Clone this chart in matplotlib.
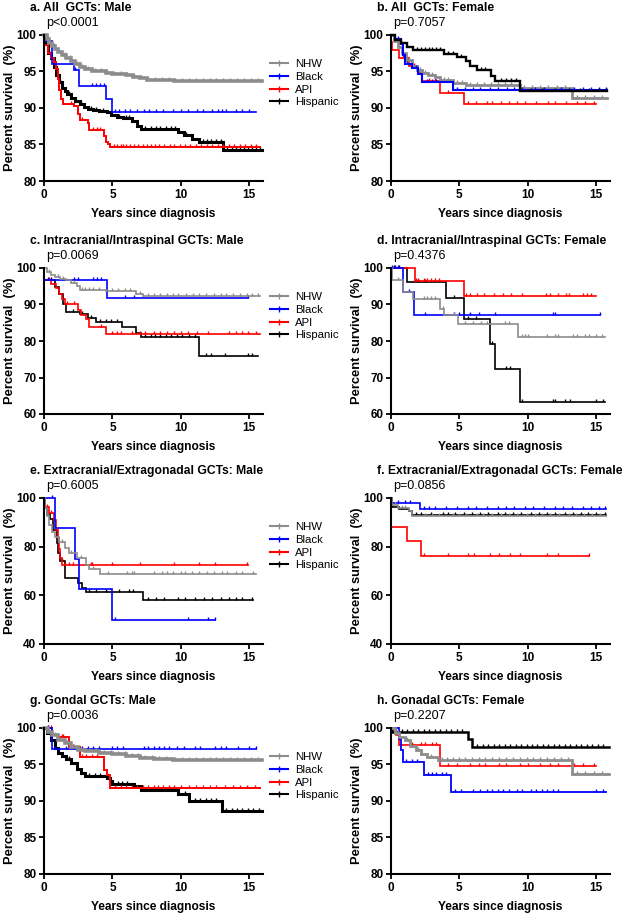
import numpy as np
import matplotlib
matplotlib.use("Agg")
import matplotlib.pyplot as plt
from matplotlib.lines import Line2D
from matplotlib.path import Path

plt.rcParams['font.family'] = ['Liberation Sans', 'DejaVu Sans']

groups = ["NHW", "Black", "API", "Hispanic"]
colors = {"NHW": "#8c8c8c", "Black": "#0000ff", "API": "#ff0000", "Hispanic": "#000000"}

titles = ["a. All  GCTs: Male", "b. All  GCTs: Female",
          "c. Intracranial/Intraspinal GCTs: Male", "d. Intracranial/Intraspinal GCTs: Female",
          "e. Extracranial/Extragonadal GCTs: Male", "f. Extracranial/Extragonadal GCTs: Female",
          "g. Gondal GCTs: Male", "h. Gonadal GCTs: Female"]
pvals = ["p<0.0001", "p=0.7057", "p=0.0069", "p=0.4376", "p=0.6005", "p=0.0856", "p=0.0036", "p=0.2207"]
ylims = [(80, 100), (80, 100), (60, 100), (60, 100), (40, 100), (40, 100), (80, 100), (80, 100)]
yticks = [[80, 85, 90, 95, 100], [80, 85, 90, 95, 100], [60, 70, 80, 90, 100], [60, 70, 80, 90, 100],
          [40, 60, 80, 100], [40, 60, 80, 100], [80, 85, 90, 95, 100], [80, 85, 90, 95, 100]]
xticks = [0, 5, 10, 15]

# ---------- Panel a ----------
a_NHW_t = [0, 0.2, 0.4, 0.6, 0.8, 1.0, 1.3, 1.6, 2.0, 2.3, 2.6, 3.0, 3.5, 4.0, 4.5, 5.0, 5.5, 6.0, 6.5, 7.0, 7.5, 8.0, 9.5]
a_NHW_s = [100, 99.4, 98.9, 98.5, 98.1, 97.7, 97.3, 96.9, 96.5, 96.0, 95.6, 95.3, 95.1, 95.0, 94.8, 94.7, 94.6, 94.5, 94.3, 94.1, 93.9, 93.8, 93.7]
a_NHW_end = 15.9
a_NHW_c = [0.3, 0.7, 1.1, 1.5, 1.9, 2.4, 2.8, 3.2, 3.7, 4.2, 4.6, 5.1, 5.6, 6.1, 6.6, 7.1, 7.6, 8.1, 8.6, 9.1, 9.6, 10.1,
           10.6, 11.1, 11.6, 12.1, 12.6, 13.1, 13.6, 14.1, 14.6, 15.1, 15.6]
a_Black_t = [0, 0.1, 0.55, 2.2, 2.55, 4.55, 4.95]
a_Black_s = [100, 99.2, 96.0, 95.2, 93.0, 91.3, 89.5]
a_Black_end = 15.5
a_Black_c = [2.3, 3.5, 3.8, 4.1, 4.4, 5.2, 5.5, 5.9, 6.3, 6.8, 7.3, 7.7, 8.2, 8.7, 9.4, 10.0, 10.5, 11.2, 11.6, 12.3,
             12.7, 13.0, 13.3, 14.0, 14.5, 15.0]
a_API_t = [0, 0.02, 0.3, 0.5, 0.7, 0.85, 1.0, 1.1, 1.25, 1.4, 2.2, 2.5, 2.65, 3.2, 3.3, 4.35, 4.5, 4.7, 4.85]
a_API_s = [100, 98.6, 97.5, 96.8, 96.3, 95.3, 94.0, 92.5, 91.2, 90.6, 90.3, 89.2, 88.3, 88.0, 87.0, 86.2, 85.4, 85.0, 84.6]
a_API_end = 15.8
a_API_c = [2.0, 2.8, 3.6, 3.9, 4.1, 5.1, 5.3, 5.6, 5.8, 6.0, 6.3, 6.6, 6.9, 7.2, 7.5, 7.8, 8.1, 8.4, 8.8, 9.2, 9.5, 9.9,
           10.3, 10.7, 11.1, 11.5, 11.9, 12.3, 12.7, 13.1, 13.5, 13.9, 14.3, 14.7, 15.1, 15.5]
a_Hisp_t = [0, 0.05, 0.3, 0.5, 0.7, 0.9, 1.1, 1.3, 1.5, 1.7, 2.0, 2.3, 2.6, 2.9, 3.2, 3.6, 4.0, 4.6, 4.9, 5.3, 5.8,
            6.4, 6.8, 7.1, 9.8, 10.2, 10.8, 11.3, 13.1]
a_Hisp_s = [100, 98.7, 97.6, 96.8, 95.6, 94.5, 93.6, 92.8, 92.3, 91.9, 91.4, 90.9, 90.5, 90.1, 89.9, 89.7, 89.6, 89.4,
            89.1, 88.8, 88.6, 88.2, 87.6, 87.1, 86.7, 86.3, 85.8, 85.3, 84.2]
a_Hisp_end = 15.9
a_Hisp_c = [0.4, 1.2, 1.8, 2.7, 3.4, 3.8, 4.3, 5.5, 6.0, 6.2, 7.4, 7.8, 8.2, 8.5, 8.9, 9.3, 9.6, 10.4, 11.6, 11.9, 12.2,
            12.6, 12.9, 13.4, 13.7, 14.0, 14.3, 14.6, 14.9, 15.2, 15.5, 15.8]

# ---------- Panel b ----------
b_NHW_t = [0, 0.2, 0.5, 0.8, 1.1, 1.5, 1.9, 2.3, 2.7, 3.2, 3.6, 4.5, 5.5, 9.4, 13.2]
b_NHW_s = [100, 99.2, 98.4, 97.5, 96.6, 95.8, 95.2, 94.8, 94.5, 94.2, 93.8, 93.4, 93.2, 92.7, 91.4]
b_NHW_end = 15.8
b_NHW_c = [0.4, 1.3, 2.1, 2.5, 3.0, 3.9, 4.2, 4.8, 5.2, 5.8, 6.3, 6.8, 7.3, 7.8, 8.3, 8.8, 9.7, 10.3, 10.9, 11.5,
           12.1, 12.7, 13.6, 14.2, 14.8, 15.4]
b_Black_t = [0, 0.3, 0.7, 0.9, 1.0, 1.5, 2.0, 2.3, 4.5]
b_Black_s = [100, 99.5, 98.8, 97.3, 96.0, 95.5, 94.6, 93.5, 92.4]
b_Black_end = 15.8
b_Black_c = [0.5, 1.2, 1.8, 2.6, 3.0, 3.3, 4.8, 5.4, 6.0, 6.5, 7.2, 7.8, 8.5, 9.0, 9.6, 10.5, 11.2, 12.4, 13.4, 14.0,
             14.6, 15.2, 15.7]
b_API_t = [0, 0.05, 0.6, 1.3, 2.0, 2.3, 3.6, 5.3]
b_API_s = [99.0, 98.0, 96.9, 95.8, 94.8, 93.7, 92.0, 90.6]
b_API_end = 15.0
b_API_c = [0.9, 1.7, 2.8, 3.2, 4.2, 5.6, 6.2, 7.0, 7.4, 8.0, 8.6, 9.2, 9.8, 10.6, 11.5, 12.0, 12.8, 13.6, 14.2, 14.8]
b_Hisp_t = [0, 0.3, 0.7, 1.2, 1.6, 3.9, 4.8, 5.5, 5.8, 6.3, 7.3, 7.6, 9.4]
b_Hisp_s = [100, 99.3, 98.9, 98.4, 97.9, 97.4, 97.0, 96.4, 95.8, 95.2, 94.4, 93.7, 92.3]
b_Hisp_end = 15.8
b_Hisp_c = [1.9, 2.2, 2.5, 2.8, 3.0, 3.3, 3.6, 4.2, 4.5, 5.1, 6.6, 6.9, 8.0, 8.4, 8.8, 9.1, 10.2, 11.0, 12.0, 13.0,
            13.8, 14.5, 15.2, 15.7]

# ---------- Panel c ----------
c_NHW_t = [0, 0.2, 0.5, 0.8, 1.2, 1.6, 2.0, 2.4, 2.6, 4.5, 6.7, 7.2]
c_NHW_s = [100, 99.0, 98.0, 97.4, 97.0, 96.6, 96.0, 95.0, 94.1, 93.6, 92.8, 92.2]
c_NHW_end = 15.8
c_NHW_c = [0.4, 1.0, 1.4, 2.2, 2.8, 3.0, 3.3, 3.6, 4.0, 5.0, 5.4, 5.9, 6.3, 7.0, 7.6, 8.0, 8.5, 9.0, 9.4, 9.8, 10.4,
           10.9, 11.3, 11.8, 12.4, 12.9, 13.3, 13.8, 14.3, 14.8, 15.2, 15.6]
c_Black_t = [0, 0.02, 4.6]
c_Black_s = [100, 96.8, 91.7]
c_Black_end = 14.9
c_Black_c = [0.3, 2.2, 2.5, 3.6, 3.9, 4.2, 5.9, 6.6, 14.9]
c_API_t = [0, 0.02, 0.5, 0.9, 1.1, 1.3, 1.5, 2.5, 2.7, 3.1, 3.3, 4.5]
c_API_s = [100, 96.8, 95.5, 94.5, 93.0, 91.5, 90.0, 88.6, 87.0, 86.0, 83.7, 82.0]
c_API_end = 15.8
c_API_c = [0.4, 1.7, 2.2, 4.2, 5.0, 5.3, 5.6, 6.4, 7.0, 7.4, 8.0, 8.5, 9.0, 9.5, 10.0, 10.5, 11.2, 12.0, 13.5, 14.0,
           14.5, 14.9, 15.5]
c_Hisp_t = [0, 0.02, 0.8, 1.1, 1.4, 1.6, 2.6, 3.2, 3.8, 5.7, 6.7, 7.1, 11.3]
c_Hisp_s = [100, 96.8, 94.8, 92.8, 90.0, 88.0, 87.4, 86.3, 85.3, 83.7, 82.3, 81.0, 76.0]
c_Hisp_end = 15.6
c_Hisp_c = [0.5, 2.1, 2.8, 3.4, 4.1, 4.5, 4.9, 5.3, 7.4, 7.8, 8.1, 8.5, 8.9, 9.3, 9.7, 10.1, 10.6, 11.0, 11.8, 12.2,
            13.2, 14.9, 15.2]

# ---------- Panel d ----------
d_NHW_t = [0, 0.05, 0.9, 1.6, 3.6, 3.9, 4.9, 9.3]
d_NHW_s = [100, 96.8, 93.3, 91.5, 88.8, 87.0, 84.6, 81.0]
d_NHW_end = 15.6
d_NHW_c = [0.5, 2.4, 2.6, 2.9, 3.2, 3.8, 4.6, 5.4, 6.0, 6.6, 7.0, 8.3, 8.6, 9.6, 9.8, 10.0, 11.4, 12.0, 12.2, 13.3,
           13.6, 14.2, 14.5, 15.0, 15.4]
d_Black_t = [0, 0.9, 1.7]
d_Black_s = [100, 93.5, 87.0]
d_Black_end = 15.3
d_Black_c = [0.1, 0.3, 0.5, 1.3, 2.5, 4.6, 5.0, 5.8, 6.4, 7.6, 11.8, 12.0, 15.3]
d_API_t = [0, 1.75, 5.35]
d_API_s = [100, 96.5, 92.4]
d_API_end = 15.0
d_API_c = [1.8, 2.0, 2.4, 2.6, 2.9, 3.2, 3.5, 5.5, 5.8, 6.3, 6.8, 7.5, 8.2, 8.8, 9.6, 11.3, 11.6, 12.2, 12.8, 13.0,
           14.0, 14.3, 14.6]
d_Hisp_t = [0, 1.2, 4.0, 5.3, 7.2, 7.6, 9.4]
d_Hisp_s = [100, 96.3, 91.7, 86.0, 79.3, 72.2, 63.2]
d_Hisp_end = 15.6
d_Hisp_c = [0.2, 0.6, 2.0, 2.5, 4.6, 5.6, 6.2, 7.4, 8.4, 8.7, 9.6, 11.8, 12.0, 12.7, 13.1, 15.0, 15.5]

# ---------- Panel e ----------
e_NHW_t = [0, 0.05, 0.2, 0.4, 0.6, 0.8, 1.1, 1.5, 1.8, 2.4, 3.1, 3.3, 4.1]
e_NHW_s = [100, 96.0, 92.5, 89.0, 86.0, 84.0, 82.0, 79.5, 77.5, 75.5, 72.5, 71.0, 68.7]
e_NHW_end = 15.5
e_NHW_c = [0.3, 1.3, 2.0, 2.7, 3.6, 4.7, 6.1, 6.4, 6.6, 8.0, 8.6, 9.0, 9.4, 10.0, 10.3, 10.8, 11.3, 11.9, 12.4, 13.0,
           13.4, 14.0, 14.5, 15.3]
e_Black_t = [0, 0.8, 2.3, 2.55, 5.0]
e_Black_s = [100, 87.5, 75.0, 62.5, 50.0]
e_Black_end = 12.5
e_Black_c = [0.6, 5.2, 10.5, 12.0, 12.5]
e_API_t = [0, 0.1, 0.4, 0.7, 0.9, 1.0, 1.1, 1.2, 1.3]
e_API_s = [100, 96.5, 94.0, 91.0, 87.0, 83.5, 79.0, 75.5, 72.3]
e_API_end = 14.9
e_API_c = [0.2, 0.5, 1.5, 1.8, 2.1, 3.4, 3.5, 5.0, 7.0, 9.5, 11.3, 12.5, 14.8]
e_Hisp_t = [0, 0.05, 0.25, 0.45, 0.68, 0.92, 1.05, 1.17, 1.5, 2.5, 2.75, 3.1, 7.2]
e_Hisp_s = [100, 96.0, 93.5, 91.5, 87.0, 81.5, 77.5, 74.0, 67.0, 65.0, 63.0, 61.2, 58.0]
e_Hisp_end = 15.3
e_Hisp_c = [1.3, 3.3, 3.8, 4.5, 5.5, 6.2, 6.5, 7.6, 8.2, 8.8, 9.8, 10.3, 11.0, 11.7, 12.3, 12.9, 13.5, 14.0, 14.5, 15.2]

# ---------- Panel f ----------
f_NHW_t = [0, 0.1, 0.5, 1.3, 1.5]
f_NHW_s = [100, 97.0, 96.0, 94.5, 92.6]
f_NHW_end = 15.7
f_NHW_c = [0.3, 1.0, 2.5, 3.0, 3.5, 4.5, 5.0, 5.5, 6.3, 6.7, 7.4, 8.0, 8.6, 9.2, 9.9, 10.5, 11.0, 11.6, 12.3, 13.0,
           13.5, 14.1, 14.7, 15.3]
f_Black_t = [0, 0.1, 2.1]
f_Black_s = [100, 97.8, 95.5]
f_Black_end = 15.7
f_Black_c = [0.5, 1.0, 1.4, 2.4, 2.8, 3.2, 4.0, 4.8, 5.6, 6.2, 7.0, 7.8, 8.4, 9.0, 9.8, 10.4, 11.2, 12.0, 12.6, 13.2,
             14.0, 14.6, 15.2, 15.6]
f_API_t = [0, 0.02, 1.2, 2.2]
f_API_s = [100, 88.2, 82.3, 76.2]
f_API_end = 14.5
f_API_c = [2.4, 4.2, 5.6, 6.1, 7.2, 7.9, 8.7, 9.4, 11.4, 12.2, 14.5]
f_Hisp_t = [0, 0.1, 0.6, 1.3, 1.5]
f_Hisp_s = [100, 96.5, 95.3, 94.8, 93.0]
f_Hisp_end = 15.7
f_Hisp_c = [0.8, 1.8, 2.2, 2.9, 3.8, 4.2, 4.7, 5.3, 5.9, 6.5, 7.1, 7.8, 8.3, 8.9, 9.5, 10.2, 10.8, 11.4, 12.0, 12.7,
            13.3, 13.9, 14.4, 15.0, 15.6]

# ---------- Panel g ----------
g_NHW_t = [0, 0.3, 0.6, 1.0, 1.5, 2.0, 2.5, 3.0, 4.0, 5.0, 6.0, 7.0, 8.0, 9.4]
g_NHW_s = [100, 99.5, 99.0, 98.4, 97.9, 97.4, 97.0, 96.8, 96.6, 96.4, 96.1, 95.9, 95.8, 95.6]
g_NHW_end = 15.9
g_NHW_c = [0.4, 0.8, 1.2, 1.7, 2.2, 2.7, 3.3, 3.8, 4.4, 4.9, 5.4, 5.9, 6.4, 6.9, 7.4, 7.9, 8.4, 8.9, 9.6, 10.1, 10.6,
           11.1, 11.6, 12.1, 12.6, 13.1, 13.6, 14.1, 14.6, 15.1, 15.6]
g_Black_t = [0, 0.55]
g_Black_s = [100, 97.1]
g_Black_end = 15.5
g_Black_c = [0.3, 0.8, 1.6, 2.2, 2.8, 3.2, 3.6, 4.0, 5.0, 5.3, 5.8, 7.3, 7.6, 8.0, 8.4, 8.8, 9.1, 9.7, 10.2, 11.0,
             11.4, 12.5, 12.9, 13.3, 14.2, 15.0, 15.5]
g_API_t = [0, 0.6, 1.0, 1.8, 2.6, 4.4, 4.6, 4.8]
g_API_s = [100, 99.0, 98.7, 97.4, 96.0, 94.2, 93.5, 91.8]
g_API_end = 15.8
g_API_c = [0.3, 0.5, 1.3, 1.4, 2.1, 2.8, 3.1, 3.5, 3.9, 5.2, 5.6, 6.0, 6.4, 6.8, 7.2, 7.6, 8.0, 8.3, 8.7, 9.1, 9.5,
           10.0, 10.6, 11.1, 11.6, 12.1, 12.6, 13.2, 13.8, 14.3, 14.8, 15.4]
g_Hisp_t = [0, 0.2, 0.5, 0.8, 1.0, 1.3, 1.6, 2.0, 2.4, 2.7, 3.0, 4.6, 4.8, 5.0, 6.6, 7.1, 9.8, 10.6, 13.0]
g_Hisp_s = [100, 99.3, 98.3, 97.3, 96.6, 96.2, 95.8, 95.2, 94.4, 93.8, 93.4, 93.2, 92.8, 92.3, 92.0, 91.5, 90.9, 90.0, 88.6]
g_Hisp_end = 15.9
g_Hisp_c = [0.4, 1.8, 3.3, 3.7, 4.1, 5.4, 5.7, 6.1, 7.5, 7.9, 8.3, 8.7, 9.1, 9.5, 10.3, 11.0, 11.4, 11.8, 12.2, 12.6,
            13.3, 13.7, 14.1, 14.5, 14.9, 15.3, 15.7]

# ---------- Panel h ----------
h_NHW_t = [0, 0.3, 0.6, 1.0, 1.4, 1.8, 2.2, 2.6, 3.4, 13.2]
h_NHW_s = [100, 99.3, 98.8, 98.3, 97.6, 97.0, 96.5, 96.0, 95.6, 93.7]
h_NHW_end = 15.9
h_NHW_c = [0.5, 1.2, 2.0, 2.9, 3.7, 4.1, 4.5, 5.0, 5.4, 5.9, 6.4, 6.9, 7.4, 7.9, 8.4, 8.9, 9.4, 9.9, 10.4, 10.9,
           11.4, 11.9, 12.4, 12.9, 13.6, 14.2, 14.8, 15.4]
h_Black_t = [0, 0.55, 0.7, 0.85, 2.4, 4.4]
h_Black_s = [100, 98.5, 97.0, 95.3, 93.5, 91.2]
h_Black_end = 15.7
h_Black_c = [1.1, 1.5, 1.9, 2.7, 3.0, 3.3, 3.7, 4.0, 4.7, 5.1, 6.0, 6.5, 7.0, 7.4, 7.8, 8.2, 8.6, 9.2, 9.6, 10.2,
             10.6, 11.0, 11.4, 11.8, 12.2, 15.0, 15.5]
h_API_t = [0, 0.4, 0.55, 3.6]
h_API_s = [100, 99.0, 97.7, 94.8]
h_API_end = 15.0
h_API_c = [1.5, 2.2, 2.5, 3.0, 3.3, 4.2, 4.8, 5.8, 6.4, 6.9, 7.9, 8.4, 9.4, 10.0, 10.9, 11.6, 12.2, 13.4, 14.0, 14.8]
h_Hisp_t = [0, 0.1, 5.6, 5.9]
h_Hisp_s = [100, 99.4, 98.5, 97.4]
h_Hisp_end = 15.9
h_Hisp_c = [0.4, 0.8, 1.2, 1.6, 2.0, 2.4, 2.8, 3.2, 3.6, 4.0, 4.4, 4.8, 5.2, 6.3, 6.7, 7.1, 7.5, 7.9, 8.3, 8.7, 9.1,
            9.5, 9.9, 10.3, 10.7, 11.1, 11.5, 11.9, 12.3, 12.7, 13.1, 13.5, 13.9, 14.3, 14.7, 15.1, 15.5]

g_ = globals()
panels = "abcdefgh"
keys = {"NHW": "NHW", "Black": "Black", "API": "API", "Hispanic": "Hisp"}

# line widths per panel (larger samples drawn heavier, as in the original)
lw_map = {
    "a": {"NHW": 2.6, "Black": 1.2, "API": 1.4, "Hispanic": 2.2},
    "g": {"NHW": 2.6, "Black": 1.2, "API": 1.4, "Hispanic": 2.2},
    "b": {"NHW": 2.0, "Black": 1.5, "API": 1.2, "Hispanic": 1.7},
    "h": {"NHW": 2.0, "Black": 1.3, "API": 1.2, "Hispanic": 1.8},
}
order_map = {"b": ["API", "NHW", "Black", "Hispanic"]}

W, H = 625, 916
fig = plt.figure(figsize=(W / 100, H / 100), dpi=100)
col_left = [44, 391]
row_top = [35, 268, 498, 728]
aw, ah = 219, 146

# censor tick: short vertical stroke pointing upward from the curve
tick_marker = Path([(0, 0), (0, 1)])

def km(ax, t, s, end, cens, color, lw):
    tt = list(t) + [end]
    ss = list(s) + [s[-1]]
    ax.step(tt, ss, where='post', color=color, lw=lw, clip_on=False, solid_joinstyle='miter')
    idx = np.searchsorted(np.array(t), np.array(cens), side='right') - 1
    cy = np.array(s)[idx]
    ax.plot(cens, cy, ls='none', marker=tick_marker, ms=4.2, mew=1.0, color=color, clip_on=False)

default_order = ["Hispanic", "API", "Black", "NHW"]

for i, p in enumerate(panels):
    r, c = divmod(i, 2)
    left = col_left[c] / W
    bottom = (H - row_top[r] - ah) / H
    ax = fig.add_axes([left, bottom, aw / W, ah / H])
    for grp in order_map.get(p, default_order):
        k = keys[grp]
        t = g_[f"{p}_{k}_t"]
        s = g_[f"{p}_{k}_s"]
        end = g_[f"{p}_{k}_end"]
        cens = g_[f"{p}_{k}_c"]
        lw = lw_map.get(p, {}).get(grp, 1.2)
        km(ax, t, s, end, cens, colors[grp], lw)
    ax.set_xlim(0, 16)
    ax.set_ylim(*ylims[i])
    ax.set_xticks(xticks)
    ax.set_yticks(yticks[i])
    for sp in ["top", "right"]:
        ax.spines[sp].set_visible(False)
    for sp in ["left", "bottom"]:
        ax.spines[sp].set_linewidth(1.5)
    ax.tick_params(direction='out', length=3.5, width=1.3, labelsize=8.5, pad=2)
    for lab in ax.get_xticklabels() + ax.get_yticklabels():
        lab.set_fontweight('bold')
    ax.set_xlabel("Years since diagnosis", fontsize=8.6, fontweight='bold')
    ax.xaxis.set_label_coords(0.5, -33 / ah)
    ax.xaxis.label.set_va('center')
    ax.set_ylabel("Percent survival  (%)", fontsize=9.3, fontweight='bold')
    ax.yaxis.set_label_coords(-34 / aw, 0.5)
    ax.yaxis.label.set_va('center')
    ax.text(-14 / aw, 1 + 27 / ah, titles[i], transform=ax.transAxes, ha='left', va='center',
            fontsize=8.7, fontweight='bold')
    ax.text(2 / aw, 1 + 12 / ah, pvals[i], transform=ax.transAxes, ha='left', va='center', fontsize=9)
    if c == 0:
        handles = [Line2D([], [], color=colors[g], lw=1.5, marker='|', ms=4, mew=1.0) for g in groups]
        ax.legend(handles, groups, loc='center left', bbox_to_anchor=(1.03, 0.67), frameon=False,
                  fontsize=8.2, numpoints=1, handlelength=1.6, handletextpad=0.6, labelspacing=0.25,
                  borderpad=0, borderaxespad=0)

fig.savefig("out.png", dpi=100)
